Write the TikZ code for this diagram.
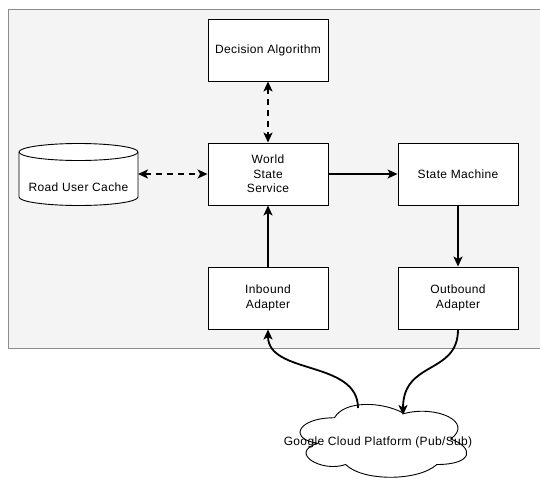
\documentclass[tikz,border=0pt]{standalone}
\usepackage{fontspec}
\setmainfont[LetterSpace=3]{Liberation Sans}
\usetikzlibrary{arrows.meta}
\definecolor{panel}{HTML}{F4F4F4}
\definecolor{panelline}{HTML}{8C8C8C}
\tikzset{
  box/.style={draw=black, line width=0.9pt, fill=white, minimum width=120pt, minimum height=62pt,
    align=center, inner sep=0pt, font=\fontsize{12}{14.5}\selectfont},
  link/.style={line width=1.8pt, -{Stealth[length=10pt,width=9pt,inset=2.5pt]}},
  duplex/.style={line width=1.8pt, dash pattern=on 6pt off 5pt,
    {Stealth[length=10pt,width=9pt,inset=2.5pt]}-{Stealth[length=10pt,width=9pt,inset=2.5pt]}},
  label/.style={font=\fontsize{12}{14.5}\selectfont, inner sep=0pt}
}
\begin{document}
\begin{tikzpicture}[x=1pt,y=-1pt]
\useasboundingbox (0,0) rectangle (540,477);
% background panel
\draw[panelline, fill=panel, line width=0.8pt] (8,9) rectangle (560,348);

% process boxes
\node[box] (dec) at (268,50) {Decision Algorithm};
\node[box] (wss) at (268,174) {World\\State\\Service};
\node[box] (sm)  at (458,174) {State Machine};
\node[box] (in)  at (268,298) {Inbound\\Adapter};
\node[box] (out) at (458,298) {Outbound\\Adapter};

% road user cache (cylinder); y grows downwards, so angle 90 points down
\draw[line width=0.9pt, fill=white]
  (19,152) -- (19,197) arc[start angle=180, end angle=0, x radius=59.5, y radius=8.5]
  -- (138,152) arc[start angle=0, end angle=-180, x radius=59.5, y radius=8.5] -- cycle;
\draw[line width=0.9pt] (19,152) arc[start angle=180, end angle=0, x radius=59.5, y radius=8.5];
\coordinate (cacheE) at (138,174);
\node[label] (cache) at (78.5,187) {Road User Cache};

% cloud (Pub/Sub)
\def\cx{288}\def\cy{396.5}\def\cw{186}\def\ch{85}
\draw[line width=0.9pt, fill=white]
  ({\cx+0.25*\cw},{\cy+0.25*\ch})
  .. controls ({\cx+0.05*\cw},{\cy+0.25*\ch}) and ({\cx},{\cy+0.5*\ch}) .. ({\cx+0.16*\cw},{\cy+0.55*\ch})
  .. controls ({\cx},{\cy+0.66*\ch}) and ({\cx+0.18*\cw},{\cy+0.9*\ch}) .. ({\cx+0.31*\cw},{\cy+0.8*\ch})
  .. controls ({\cx+0.4*\cw},{\cy+\ch}) and ({\cx+0.7*\cw},{\cy+\ch}) .. ({\cx+0.8*\cw},{\cy+0.8*\ch})
  .. controls ({\cx+\cw},{\cy+0.8*\ch}) and ({\cx+\cw},{\cy+0.6*\ch}) .. ({\cx+0.875*\cw},{\cy+0.5*\ch})
  .. controls ({\cx+\cw},{\cy+0.3*\ch}) and ({\cx+0.8*\cw},{\cy+0.1*\ch}) .. ({\cx+0.625*\cw},{\cy+0.2*\ch})
  .. controls ({\cx+0.5*\cw},{\cy+0.05*\ch}) and ({\cx+0.3*\cw},{\cy+0.05*\ch}) .. ({\cx+0.25*\cw},{\cy+0.25*\ch})
  -- cycle;
\node[label] (gcp) at (378,442) {Google Cloud Platform (Pub/Sub)};
\coordinate (cloudL) at (358,408);
\coordinate (cloudR) at (403,415);

% connectors
\draw[duplex] (dec.south) -- (wss.north);
\draw[duplex] (cacheE) -- (wss.west);
\draw[link] (wss.east) -- (sm.west);
\draw[link] (in.north) -- (wss.south);
\draw[link] (sm.south) -- (out.north);
\draw[link] (cloudL) .. controls (358,360) and (268,375) .. (in.south);
\draw[link] (out.south) .. controls (458,375) and (403,360) .. (cloudR);
\end{tikzpicture}
\end{document}
